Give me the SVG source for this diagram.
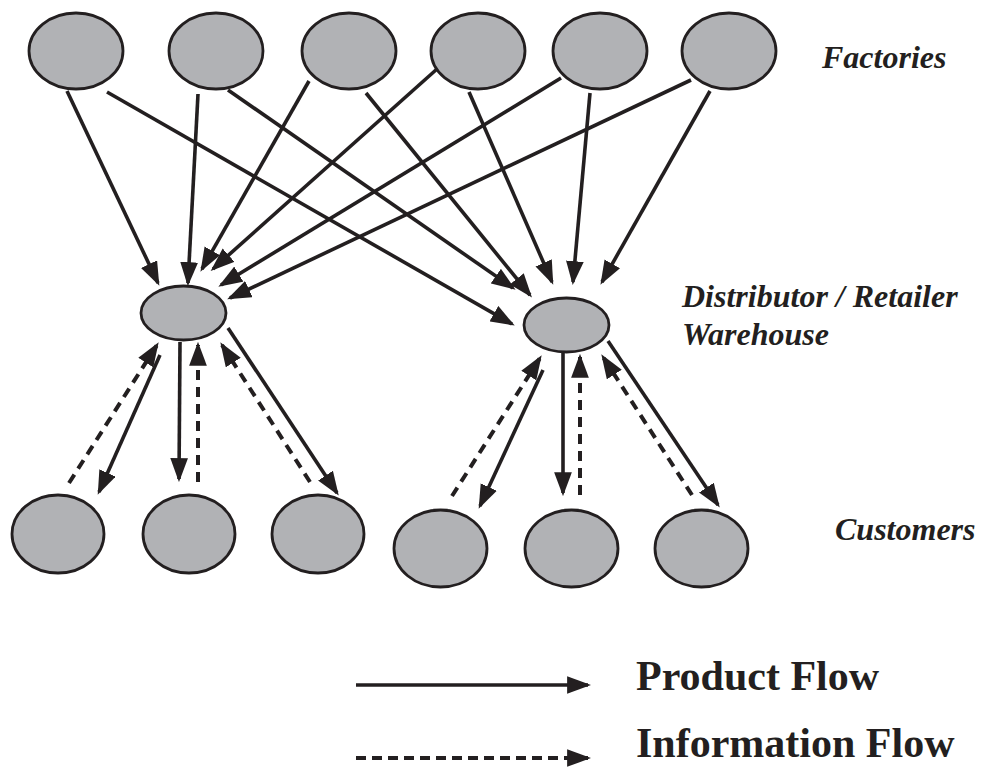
<svg xmlns="http://www.w3.org/2000/svg" width="983" height="769" viewBox="0 0 983 769">
<style>
.node{fill:#b1b2b5;stroke:#231f20;stroke-width:2.8}
.prod{stroke:#231f20;stroke-width:3.6;fill:none;marker-end:url(#ah)}
.info{stroke:#231f20;stroke-width:4;fill:none;stroke-dasharray:10 7;marker-end:url(#ah)}
.lbl{font-family:"Liberation Serif","Times New Roman",serif;font-weight:bold;font-style:italic;font-size:32px;fill:#231f20}
.leg{font-family:"Liberation Serif","Times New Roman",serif;font-weight:bold;font-size:42px;fill:#231f20}
</style>
<defs>
<marker id="ah" markerUnits="userSpaceOnUse" markerWidth="24" markerHeight="18" viewBox="0 0 23 17" refX="20" refY="8.5" orient="auto">
<path d="M0,0 L23,8.5 L0,17 z" fill="#231f20"/>
</marker>
</defs>
<rect width="983" height="769" fill="#ffffff"/>
<g id="connectors">
<line class="prod" x1="67" y1="91" x2="158" y2="283"/>
<line class="prod" x1="198" y1="94" x2="188" y2="283"/>
<line class="prod" x1="309" y1="81" x2="202" y2="269"/>
<line class="prod" x1="437" y1="69" x2="213" y2="269"/>
<line class="prod" x1="561" y1="78" x2="221" y2="285"/>
<line class="prod" x1="691" y1="80" x2="230" y2="298"/>
<line class="prod" x1="107" y1="92" x2="512" y2="324"/>
<line class="prod" x1="228" y1="90" x2="513" y2="288"/>
<line class="prod" x1="366" y1="93" x2="530" y2="295"/>
<line class="prod" x1="469" y1="92" x2="552" y2="282"/>
<line class="prod" x1="590" y1="93" x2="573" y2="282"/>
<line class="prod" x1="710" y1="91" x2="602" y2="282"/>
<line class="prod" x1="160" y1="355" x2="99" y2="492"/>
<line class="info" x1="69" y1="483" x2="157" y2="345"/>
<line class="prod" x1="180" y1="342" x2="179" y2="479"/>
<line class="info" x1="198" y1="482" x2="198" y2="345"/>
<line class="info" x1="310" y1="482" x2="222" y2="345"/>
<line class="prod" x1="228" y1="328" x2="337" y2="493"/>
<line class="prod" x1="543" y1="370" x2="480" y2="506"/>
<line class="info" x1="452" y1="496" x2="540" y2="358"/>
<line class="prod" x1="563" y1="353" x2="563" y2="493"/>
<line class="info" x1="580" y1="495" x2="580" y2="357"/>
<line class="info" x1="692" y1="495" x2="603" y2="357"/>
<line class="prod" x1="608" y1="341" x2="718" y2="505"/>
</g>
<g id="factory1"><ellipse class="node" cx="76" cy="51" rx="47" ry="38"/></g>
<g id="factory2"><ellipse class="node" cx="216" cy="51" rx="47" ry="38"/></g>
<g id="factory3"><ellipse class="node" cx="349" cy="51" rx="47" ry="38"/></g>
<g id="factory4"><ellipse class="node" cx="478" cy="51" rx="47" ry="38"/></g>
<g id="factory5"><ellipse class="node" cx="600" cy="51" rx="47" ry="38"/></g>
<g id="factory6"><ellipse class="node" cx="729" cy="51" rx="47" ry="38"/></g>
<g id="distributor1"><ellipse class="node" cx="183.5" cy="313" rx="42.5" ry="27"/></g>
<g id="distributor2"><ellipse class="node" cx="566.5" cy="325" rx="42.5" ry="27"/></g>
<g id="customer1"><ellipse class="node" cx="58" cy="534" rx="46" ry="39"/></g>
<g id="customer2"><ellipse class="node" cx="189" cy="534" rx="46" ry="39"/></g>
<g id="customer3"><ellipse class="node" cx="318" cy="534" rx="46" ry="39"/></g>
<g id="customer4"><ellipse class="node" cx="440.5" cy="548.5" rx="46.5" ry="38.5"/></g>
<g id="customer5"><ellipse class="node" cx="571.5" cy="548.5" rx="46.5" ry="38.5"/></g>
<g id="customer6"><ellipse class="node" cx="701.5" cy="548.5" rx="46.5" ry="38.5"/></g>
<g id="labels">
<text class="lbl" x="822" y="68">Factories</text>
<text class="lbl" x="682" y="307">Distributor / Retailer</text>
<text class="lbl" x="682" y="345">Warehouse</text>
<text class="lbl" x="835" y="540">Customers</text>
</g>
<g id="legend">
<line class="prod" x1="356" y1="685" x2="588" y2="685"/>
<line class="info" x1="356" y1="758" x2="588" y2="758" style="stroke-dasharray:10 6"/>
<text class="leg" x="636" y="690">Product Flow</text>
<text class="leg" x="636" y="757">Information Flow</text>
</g>
</svg>
